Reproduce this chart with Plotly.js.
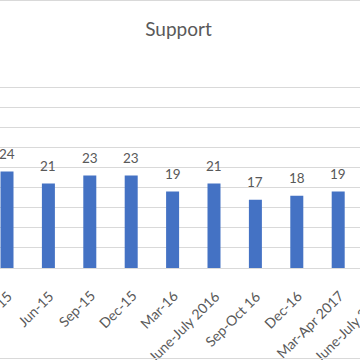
<!DOCTYPE html>
<html>
<head>
<meta charset="utf-8">
<script src="https://cdn.plot.ly/plotly-3.0.1.min.js"></script>
<style>
  html, body { margin: 0; padding: 0; background: #fff; overflow: hidden; width: 360px; height: 360px; }
  #frame { position: relative; width: 360px; height: 360px; overflow: hidden; }
  #chart { position: absolute; left: 0; top: 0; width: 460px; height: 360px; }
  .hline { position: absolute; left: 0; width: 360px; height: 1px; background: #d9d9d9; }
</style>
</head>
<body>
<div id="frame">
  <div id="chart"></div>
  <div class="hline" style="top:0px"></div>
  <div class="hline" style="top:358px"></div>
</div>
<script>
const categories = ["Mar-15", "Jun-15", "Sep-15", "Dec-15", "Mar-16", "June-July 2016", "Sep-Oct 16", "Dec-16", "Mar-Apr 2017", "June-July 2017"];
const support = [24, 21, 23, 23, 19, 21, 17, 18, 19, 20];
const chartTitle = "Support";

const font = "Lato, 'Open Sans', sans-serif";
const spacing = 41.4;   // px per category
const firstCenter = 7;  // px
const W = 460;

const valueLabels = categories.map((c, i) => ({
  x: c, y: support[i], xref: "x", yref: "y",
  text: String(support[i]), showarrow: false,
  yanchor: "bottom", yshift: 8,
  font: { family: font, size: 13.5, color: "#595959" }
}));

const tickLabels = categories.map((c) => ({
  x: c, y: 0, xref: "x", yref: "paper",
  text: c, showarrow: false, textangle: -45,
  xanchor: "right", yanchor: "top",
  xshift: 10, yshift: -18, borderpad: 0,
  font: { family: font, size: 14, color: "#595959" }
}));

Plotly.newPlot("chart", [{
  type: "bar",
  x: categories,
  y: support,
  marker: { color: "#4472C4" },
  hoverinfo: "none"
}], {
  width: W,
  height: 360,
  margin: { l: 0, r: 0, t: 67, b: 92, pad: 0 },
  paper_bgcolor: "rgba(0,0,0,0)",
  plot_bgcolor: "#fff",
  bargap: 0.686,
  showlegend: false,
  annotations: valueLabels.concat(tickLabels),
  title: {
    text: chartTitle,
    font: { family: font, size: 19, color: "#595959" },
    xref: "paper", x: 178.5 / W, xanchor: "center",
    yref: "container", y: 1 - 29 / 360, yanchor: "middle"
  },
  xaxis: {
    type: "category",
    range: [-firstCenter / spacing, -firstCenter / spacing + W / spacing],
    showticklabels: false,
    showline: true, linecolor: "#d9d9d9", linewidth: 1,
    showgrid: false, ticks: "", fixedrange: true
  },
  yaxis: {
    range: [0, 50],
    dtick: 5,
    showticklabels: false,
    showgrid: true, gridcolor: "#d9d9d9", gridwidth: 1,
    zeroline: false, showline: false, ticks: "", fixedrange: true
  }
}, { displayModeBar: false, staticPlot: true });
</script>
</body>
</html>
